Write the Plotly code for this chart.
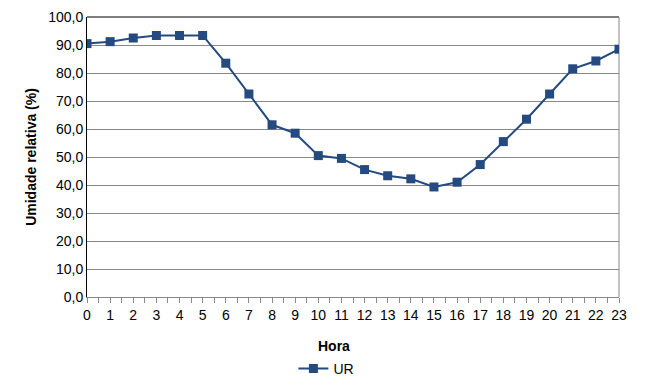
import plotly.graph_objects as go

horas = list(range(24))
ur = [90.5, 91.2, 92.5, 93.4, 93.4, 93.4, 83.5, 72.5, 61.5, 58.5, 50.5, 49.5,
      45.5, 43.3, 42.2, 39.3, 41.0, 47.3, 55.5, 63.5, 72.5, 81.5, 84.3, 88.5]
y_ticks = [0, 10, 20, 30, 40, 50, 60, 70, 80, 90, 100]

color = "#244a7f"
fig = go.Figure()
fig.add_trace(go.Scatter(
    x=horas, y=ur, name="UR", mode="lines+markers",
    line=dict(color=color, width=2),
    marker=dict(symbol="square", size=9, color=color),
))

fig.update_layout(
    width=666, height=388,
    margin=dict(l=79, r=55, t=9, b=99, autoexpand=False),
    paper_bgcolor="white", plot_bgcolor="white",
    separators=",.",
    font=dict(family="Liberation Sans", size=14, color="black"),
    showlegend=True,
    legend=dict(orientation="h", x=0.45, xanchor="center", y=-0.2, yanchor="top",
                font=dict(size=14)),
    annotations=[dict(text="<b>Hora</b>", xref="paper", yref="paper",
                      x=0.464, y=-0.14, xanchor="center", yanchor="top",
                      showarrow=False, font=dict(size=14))],
    shapes=[
        dict(type="line", xref="paper", yref="paper", x0=0, x1=1, y0=1, y1=1,
             line=dict(color="black", width=1), layer="below"),
        dict(type="line", xref="paper", yref="paper", x0=1, x1=1, y0=0, y1=1,
             line=dict(color="#888888", width=1), layer="below"),
    ],
)
fig.update_xaxes(
    range=[0, 23], tickmode="array", tickvals=horas, ticktext=[str(h) for h in horas],
    ticks="outside", ticklen=5, tickcolor="#888888", automargin=False,
    minor=dict(dtick=0.5, tick0=0, ticks="outside", ticklen=5, tickcolor="#888888"),
    showgrid=False, zeroline=False,
    showline=True, linecolor="#888888", linewidth=1,
)
fig.update_yaxes(
    range=[0, 100], tickvals=y_ticks, tickformat=".1f", automargin=False,
    showgrid=True, gridcolor="#888888", gridwidth=1, zeroline=False,
    showline=True, linecolor="black", linewidth=1,
    ticks="", title=dict(text="<b>Umidade relativa (%)</b>", standoff=8, font=dict(size=14)),
)
fig.write_html("out.html")
